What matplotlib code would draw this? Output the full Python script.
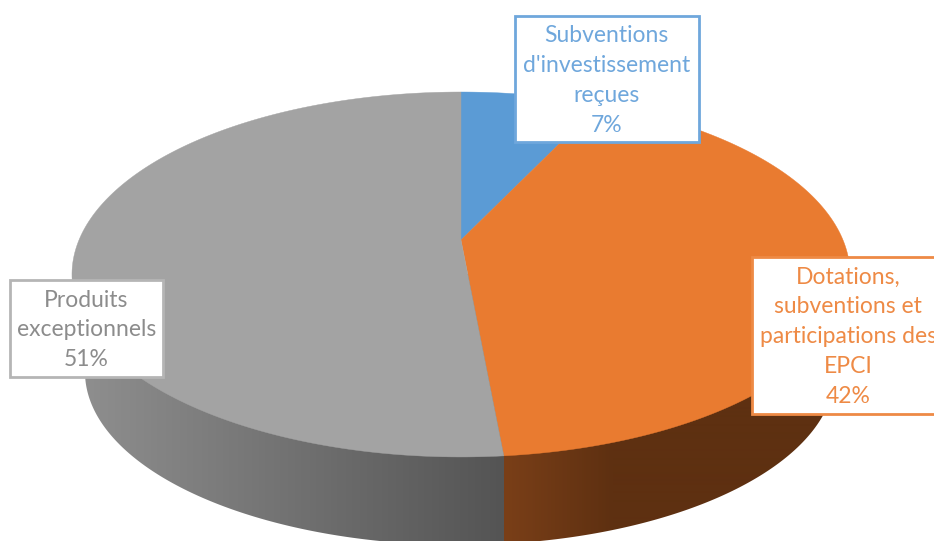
import numpy as np
import matplotlib
matplotlib.use("Agg")
import matplotlib.pyplot as plt
from matplotlib.colors import LinearSegmentedColormap
from matplotlib.patches import Polygon, Rectangle

# Data
categories = ["Subventions\nd'investissement\nreçues", "Dotations,\nsubventions et\nparticipations des\nEPCI", "Produits\nexceptionnels"]
values = [7.0, 41.55, 51.45]
percent_labels = ["7%", "42%", "51%"]
top_colors = ["#5B9BD5", "#E97B30", "#A3A3A3"]
text_colors = ["#6FA7DC", "#EE8A45", "#8C8C8C"]
edge_colors = ["#6FA7DC", "#EE8A45", "#B5B5B5"]

# Label boxes: x0, y0, x1, y1 in pixels
boxes = [(514.5, 15.5, 699, 142), (751.5, 257, 950, 413.5), (10, 280, 163, 377)]

W, H = 934, 541
fig = plt.figure(figsize=(W / 100, H / 100), dpi=100, facecolor="white")
ax = fig.add_axes([0, 0, 1, 1])
ax.set_xlim(0, W)
ax.set_ylim(H, 0)
ax.axis("off")

# Perspective projection of the pie disc
CX, CY, A, B, C = 461.0, 240.0, 382.0, -130.6, 0.189


def project(theta):
    x, y = np.sin(theta), np.cos(theta)
    d = 1 + C * y
    return CX + A * x / d, (CY + B * y) / d


fractions = np.array(values) / np.sum(values)
edges = np.concatenate([[0], np.cumsum(fractions)]) * 2 * np.pi

# Side wall: silhouette between the top rim and a lower rim
t = np.linspace(0, np.pi, 300)
lx = 460 - 375 * np.cos(t)
ly = 372 + 173 * np.sin(t)
wall = np.vstack([[72, 274], np.column_stack([lx, ly]), [850, 274]])
split_x = project(edges[2])[0]

xx = np.arange(0, W)
grey_ramp = np.interp(xx, [85, split_x], [0, 1])
orange_ramp = np.interp(xx, [split_x, 613], [0, 1])
grey_cmap = LinearSegmentedColormap.from_list("g", ["#8E8E8E", "#545454"])
orange_cmap = LinearSegmentedColormap.from_list("o", ["#7A3F18", "#5E3011"])
for ramp, cmap, x0, x1 in [(grey_ramp, grey_cmap, 0, split_x), (orange_ramp, orange_cmap, split_x, W)]:
    i0, i1 = int(round(x0)), int(round(x1))
    im = ax.imshow(ramp[i0:i1][None, :], cmap=cmap, vmin=0, vmax=1, aspect="auto",
                   extent=(i0, i1, H, 0), zorder=1, interpolation="bilinear")
    im.set_clip_path(Polygon(wall, closed=True, transform=ax.transData))
ax.set_xlim(0, W)
ax.set_ylim(H, 0)

# Top of the pie
for i, col in enumerate(top_colors):
    th = np.linspace(edges[i], edges[i + 1], 200)
    px, py = project(th)
    pts = np.vstack([[CX, CY], np.column_stack([px, py])])
    ax.add_patch(Polygon(pts, closed=True, facecolor=col, edgecolor=col, linewidth=0.3, zorder=2))

# Labels
for cat, pct, tc, ec, (x0, y0, x1, y1) in zip(categories, percent_labels, text_colors, edge_colors, boxes):
    ax.add_patch(Rectangle((x0, y0), x1 - x0, y1 - y0, facecolor="white", edgecolor=ec, linewidth=2, zorder=3))
    ax.text((x0 + x1) / 2 if x1 < W else 848, (y0 + y1) / 2 + 1.5, cat + "\n" + pct, ha="center", va="center",
            color=tc, fontsize=16.5, family="Lato", linespacing=1.52, zorder=4)

fig.savefig("out.png", dpi=100, facecolor="white")
